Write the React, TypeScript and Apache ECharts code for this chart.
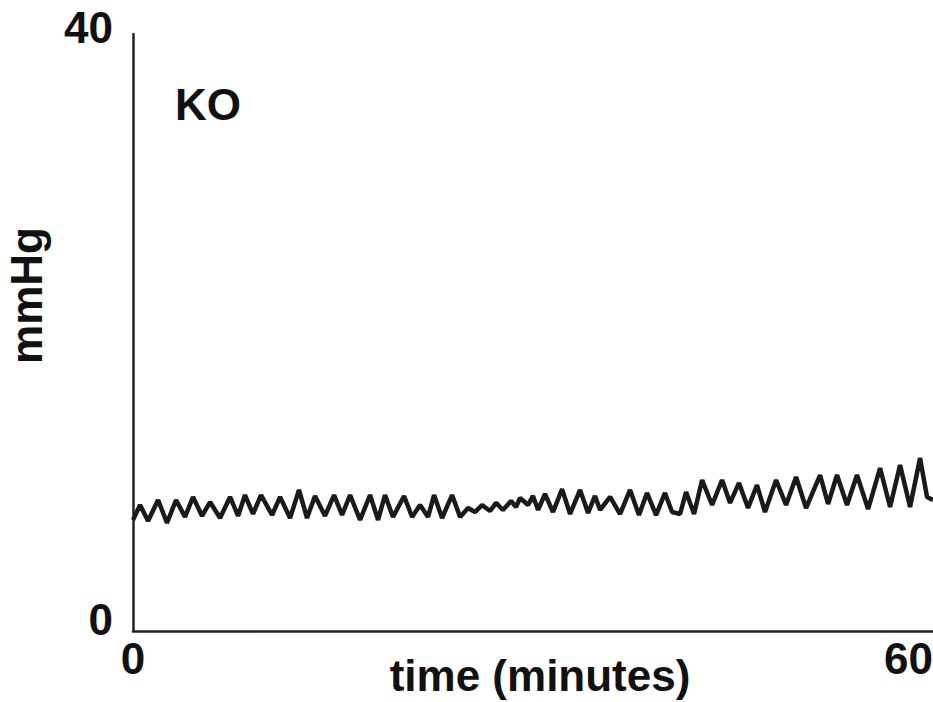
import React, { useEffect, useRef } from "react";
import * as echarts from "echarts";

// time in minutes
const timeMin: number[] = [
  0, 0.53, 1.13, 1.88, 2.55, 3.23, 3.9, 4.5, 5.18, 5.78, 6.53, 7.28, 7.88, 8.4, 9.0, 9.6,
  10.43, 11.03, 11.78, 12.45, 13.05, 13.65, 14.4, 15.08, 15.68, 16.28, 17.03, 17.78, 18.38, 18.9, 19.5,
  20.33, 20.93, 21.53, 22.13, 22.58, 23.18, 23.93, 24.53, 25.13, 25.65, 26.18, 26.78, 27.23, 27.75, 28.35,
  28.73, 29.03, 29.63, 30.0, 30.38, 30.9, 31.5, 32.18, 32.78, 33.53, 34.13, 34.65, 35.03, 35.78, 36.53,
  37.28, 37.95, 38.55, 39.23, 39.9, 40.43, 41.03, 41.48, 42.08, 42.68, 43.43, 44.18, 44.78, 45.45, 46.13,
  46.8, 47.4, 48.23, 48.98, 49.73, 50.48, 51.53, 52.13, 52.8, 53.55, 54.3, 55.13, 56.03, 56.78, 57.53,
  58.28, 59.03, 59.55, 60,
];

// pressure in mmHg
const pressure: number[] = [
  7.44, 8.44, 7.37, 8.78, 7.24, 8.78, 7.64, 8.98, 7.71, 8.64, 7.57, 8.98, 7.71, 9.11, 7.84, 9.11,
  7.77, 8.98, 7.57, 9.45, 7.57, 9.05, 7.71, 9.11, 7.77, 9.11, 7.44, 9.11, 7.44, 9.11, 7.64,
  9.05, 7.64, 8.44, 7.64, 9.11, 7.57, 9.11, 7.64, 8.24, 7.97, 8.44, 8.04, 8.58, 8.11, 8.71,
  8.31, 8.91, 8.44, 9.05, 8.11, 9.18, 7.97, 9.51, 7.84, 9.45, 7.91, 9.05, 8.11, 8.98, 7.84,
  9.45, 7.77, 9.25, 7.77, 9.25, 7.97, 7.84, 9.31, 7.84, 10.12, 8.44, 10.12, 8.58, 9.92, 8.24,
  9.78, 7.97, 10.12, 8.44, 10.32, 8.24, 10.45, 8.51, 10.45, 8.44, 10.45, 8.17, 10.92, 8.31, 11.12,
  8.31, 11.59, 8.98, 8.78,
];

const yTicks: number[] = [0, 40];
const xTicks: number[] = [0, 60];
const panelLabel = "KO";
const xTitle = "time (minutes)";
const yTitle = "mmHg";

const FONT = "'Liberation Sans', Arial, sans-serif";

export default function App() {
  const ref = useRef<HTMLDivElement>(null);
  useEffect(() => {
    if (!ref.current) return;
    const chart = echarts.init(ref.current, undefined, { renderer: "svg" });
    const data = timeMin.map((t, i) => [t, pressure[i]]);
    chart.setOption({
      animation: false,
      backgroundColor: "#ffffff",
      grid: {
        left: 133,
        right: 0,
        top: 34,
        bottom: 71,
        containLabel: false,
        outerBoundsMode: "none",
      },
      xAxis: {
        type: "value",
        min: xTicks[0],
        max: xTicks[1],
        interval: xTicks[1] - xTicks[0],
        name: xTitle,
        nameLocation: "middle",
        nameGap: 22,
        nameMoveOverlap: false,
        nameTextStyle: {
          fontFamily: FONT,
          fontWeight: "bold",
          fontSize: 44,
          color: "#111",
          padding: [0, 0, 0, 14],
        },
        axisLine: { show: true, lineStyle: { color: "#222", width: 2.5 } },
        axisTick: { show: false },
        splitLine: { show: false },
        axisLabel: {
          show: true,
          fontFamily: FONT,
          fontWeight: "bold",
          fontSize: 44,
          color: "#111",
          margin: 5,
          alignMinLabel: "center",
          alignMaxLabel: "right",
        },
      },
      yAxis: {
        type: "value",
        min: yTicks[0],
        max: yTicks[1],
        interval: yTicks[1] - yTicks[0],
        name: yTitle,
        nameLocation: "middle",
        nameGap: 85,
        nameMoveOverlap: false,
        nameTextStyle: {
          fontFamily: FONT,
          fontWeight: "bold",
          fontSize: 44,
          color: "#111",
          padding: [0, 0, 0, 74],
        },
        axisLine: { show: true, lineStyle: { color: "#222", width: 2.5 } },
        axisTick: { show: false },
        splitLine: { show: false },
        axisLabel: {
          show: true,
          margin: 20,
          formatter: (v: number) => (v === yTicks[0] ? `{lo|${v}}` : `{hi|${v}}`),
          rich: {
            lo: { fontFamily: FONT, fontWeight: "bold", fontSize: 44, color: "#111", padding: [0, 0, 24, 0] },
            hi: { fontFamily: FONT, fontWeight: "bold", fontSize: 44, color: "#111", padding: [0, 0, 14, 0] },
          },
        },
      },
      graphic: [
        {
          type: "text",
          left: 175,
          top: 82,
          style: {
            text: panelLabel,
            fontFamily: FONT,
            fontWeight: "bold",
            fontSize: 44,
            fill: "#111",
          },
        },
      ],
      series: [
        {
          type: "line",
          data,
          showSymbol: false,
          symbol: "none",
          lineStyle: { color: "#1a1a1a", width: 4.5 },
          clip: false,
        },
      ],
    });
    return () => chart.dispose();
  }, []);
  return (
    <div
      ref={ref}
      style={{ position: "fixed", left: 0, top: 0, width: 933, height: 702, background: "#fff" }}
    />
  );
}
